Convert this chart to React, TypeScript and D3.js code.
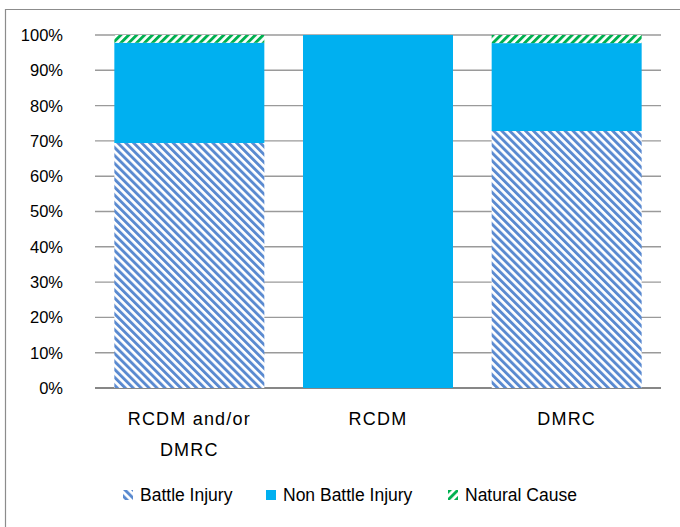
import React, { useEffect, useRef } from "react";
import * as d3 from "d3";

const categories = ["RCDM and/or\nDMRC", "RCDM", "DMRC"];
const seriesNames = ["Battle Injury", "Non Battle Injury", "Natural Cause"];
const battleInjury = [69.4, 0, 72.8];
const nonBattleInjury = [28.4, 100, 24.9];
const naturalCause = [2.2, 0, 2.3];
const yTicks = [0, 10, 20, 30, 40, 50, 60, 70, 80, 90, 100];

const fills = ["url(#battle)", "#00b0f0", "url(#natural)"];

export default function App() {
  const svgRef = useRef<SVGSVGElement>(null);

  useEffect(() => {
    const width = 680;
    const height = 527;
    const margin = { top: 35, right: 19, bottom: 139, left: 95 };
    const innerW = width - margin.left - margin.right;
    const innerH = height - margin.top - margin.bottom;

    const root = d3.select(svgRef.current);
    root.selectAll("*").remove();
    root.attr("width", width).attr("height", height);

    // patterns
    const defs = root.append("defs");
    const battle = defs
      .append("pattern")
      .attr("id", "battle")
      .attr("patternUnits", "userSpaceOnUse")
      .attr("width", 5.6)
      .attr("height", 5.6)
      .attr("patternTransform", "rotate(-45)");
    battle.append("rect").attr("width", 5.6).attr("height", 5.6).attr("fill", "#ffffff");
    battle.append("rect").attr("width", 2.9).attr("height", 5.6).attr("fill", "#5a8ad0");

    const natural = defs
      .append("pattern")
      .attr("id", "natural")
      .attr("patternUnits", "userSpaceOnUse")
      .attr("width", 5.6)
      .attr("height", 5.6)
      .attr("patternTransform", "rotate(45)");
    natural.append("rect").attr("width", 5.6).attr("height", 5.6).attr("fill", "#ffffff");
    natural.append("rect").attr("width", 2.9).attr("height", 5.6).attr("fill", "#00b050");

    // outer border (only top & left visible)
    root
      .append("path")
      .attr("d", `M5.5,${height} V9.5 H${width}`)
      .attr("fill", "none")
      .attr("stroke", "#8c8c8c")
      .attr("stroke-width", 1.2);

    const svg = root
      .append("g")
      .attr("transform", `translate(${margin.left},${margin.top})`);

    const x = d3
      .scaleBand()
      .domain(categories)
      .range([0, innerW])
      .paddingInner(0.205)
      .paddingOuter(0.1025);
    const y = d3.scaleLinear().domain([0, 100]).range([innerH, 0]);

    // gridlines
    svg
      .append("g")
      .selectAll("line")
      .data(yTicks)
      .join("line")
      .attr("x1", 0)
      .attr("x2", innerW)
      .attr("y1", (d) => y(d))
      .attr("y2", (d) => y(d))
      .attr("stroke", (d) => (d === 0 ? "#878787" : "#9a9a9a"))
      .attr("stroke-width", (d) => (d === 0 ? 2 : 1.4));

    // y labels
    svg
      .append("g")
      .selectAll("text")
      .data(yTicks)
      .join("text")
      .attr("x", -32)
      .attr("y", (d) => y(d))
      .attr("dy", "0.36em")
      .attr("text-anchor", "end")
      .style("font-family", "Liberation Sans, Arial, sans-serif")
      .style("font-size", "16.5px")
      .attr("fill", "#000")
      .text((d) => `${d}%`);

    // stacked bars
    const rows = categories.map((c, i) => ({
      cat: c,
      values: [battleInjury[i], nonBattleInjury[i], naturalCause[i]],
    }));
    const bars = svg.append("g");
    rows.forEach((r) => {
      let acc = 0;
      r.values.forEach((v, k) => {
        if (v > 0) {
          bars
            .append("rect")
            .attr("x", x(r.cat) || 0)
            .attr("width", x.bandwidth())
            .attr("y", y(acc + v))
            .attr("height", y(acc) - y(acc + v))
            .attr("fill", fills[k]);
        }
        acc += v;
      });
    });

    // category labels
    const labels = svg.append("g");
    categories.forEach((c) => {
      const cx = (x(c) || 0) + x.bandwidth() / 2;
      const t = labels
        .append("text")
        .attr("text-anchor", "middle")
        .style("font-family", "Liberation Sans, Arial, sans-serif")
        .style("font-size", "18px")
        .style("letter-spacing", "1.2px")
        .attr("fill", "#000");
      c.split("\n").forEach((line, li) => {
        t.append("tspan")
          .attr("x", cx)
          .attr("y", innerH + 37 + li * 31)
          .text(line);
      });
    });

    // legend
    const legendX = [123, 266, 448];
    const legend = root.append("g").attr("transform", `translate(0, 490)`);
    seriesNames.forEach((name, i) => {
      const g = legend.append("g").attr("transform", `translate(${legendX[i]},0)`);
      g.append("rect").attr("width", 10).attr("height", 10).attr("fill", fills[i]);
      g.append("text")
        .attr("x", 17)
        .attr("y", 11)
        .style("font-family", "Liberation Sans, Arial, sans-serif")
        .style("font-size", "17.5px")
        .attr("fill", "#000")
        .text(name);
    });
  }, []);

  return <svg ref={svgRef} style={{ position: "absolute", left: 0, top: 0 }}></svg>;
}
